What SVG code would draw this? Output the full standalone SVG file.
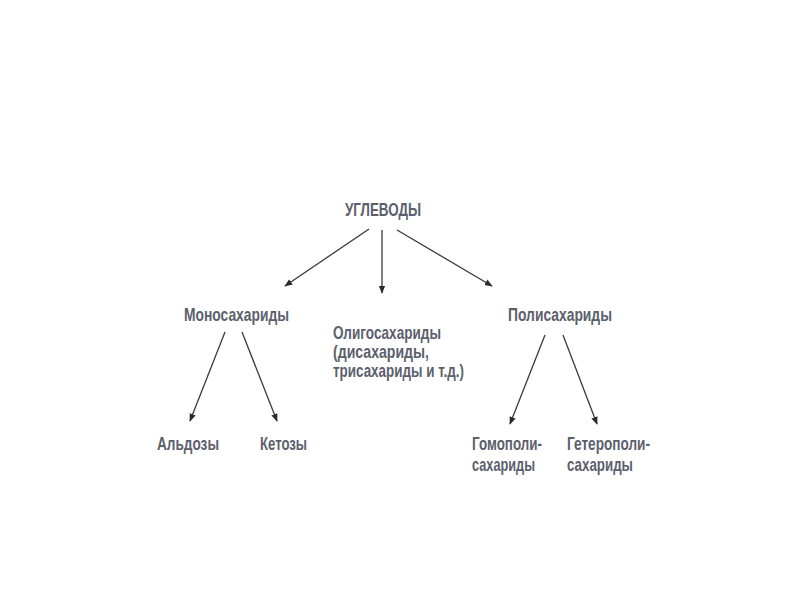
<svg xmlns="http://www.w3.org/2000/svg" width="800" height="600" viewBox="0 0 800 600">
<style>
text{font-family:"Liberation Sans",Arial,sans-serif;font-size:18.5px;font-weight:bold;fill:#5c606b}
.c line{stroke:#3a3a3a;stroke-width:1.3;marker-end:url(#ah)}
</style>
<defs>
<marker id="ah" viewBox="0 0 10 10" refX="9" refY="5" markerWidth="8" markerHeight="8" markerUnits="userSpaceOnUse" orient="auto">
<path d="M0,1 L10,5 L0,9 Z" fill="#2a2a2a"/>
</marker>
</defs>
<rect width="800" height="600" fill="#fff"/>
<g id="n-root"><text x="345" y="216" textLength="76" lengthAdjust="spacingAndGlyphs">УГЛЕВОДЫ</text></g>
<g id="n-mono"><text x="184" y="321" textLength="105" lengthAdjust="spacingAndGlyphs">Моносахариды</text></g>
<g id="n-oligo">
<text x="333" y="339" textLength="108" lengthAdjust="spacingAndGlyphs">Олигосахариды</text>
<text x="333" y="358" textLength="96" lengthAdjust="spacingAndGlyphs">(дисахариды,</text>
<text x="333" y="377" textLength="131" lengthAdjust="spacingAndGlyphs">трисахариды и т.д.)</text>
</g>
<g id="n-poly"><text x="508" y="321" textLength="104" lengthAdjust="spacingAndGlyphs">Полисахариды</text></g>
<g id="n-ald"><text x="157" y="450" textLength="62" lengthAdjust="spacingAndGlyphs">Альдозы</text></g>
<g id="n-ket"><text x="260" y="450" textLength="47" lengthAdjust="spacingAndGlyphs">Кетозы</text></g>
<g id="n-homo">
<text x="472" y="450" textLength="70" lengthAdjust="spacingAndGlyphs">Гомополи-</text>
<text x="472" y="471" textLength="63" lengthAdjust="spacingAndGlyphs">сахариды</text>
</g>
<g id="n-hetero">
<text x="567" y="450" textLength="83" lengthAdjust="spacingAndGlyphs">Гетерополи-</text>
<text x="567" y="471" textLength="66" lengthAdjust="spacingAndGlyphs">сахариды</text>
</g>
<g id="connectors" class="c">
<line x1="369" y1="229" x2="285" y2="286"/>
<line x1="382" y1="230" x2="382" y2="293"/>
<line x1="397" y1="230" x2="492" y2="286"/>
<line x1="225" y1="332" x2="190" y2="421"/>
<line x1="242" y1="332" x2="277" y2="421"/>
<line x1="545" y1="335" x2="510" y2="424"/>
<line x1="563" y1="335" x2="597" y2="424"/>
</g>
</svg>
